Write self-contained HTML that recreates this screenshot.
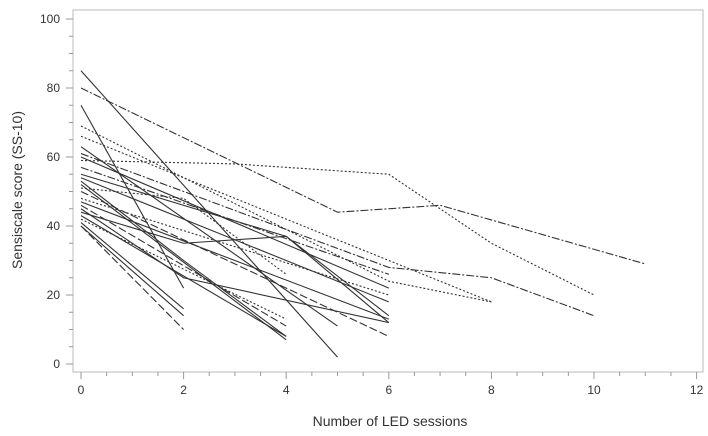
<!DOCTYPE html>
<html><head><meta charset="utf-8"><style>
body{margin:0;background:#fff;}
svg{display:block;font-family:"Liberation Sans",sans-serif;}
</style></head><body>
<svg id="chart" width="708" height="436" viewBox="0 0 708 436">
<rect x="0" y="0" width="708" height="436" fill="#fff"/>
<g id="axes"></g>
<g id="lines"></g>
<text x="390" y="426" font-size="14" text-anchor="middle" fill="#333">Number of LED sessions</text>
<text transform="translate(22,190) rotate(-90)" font-size="14" text-anchor="middle" fill="#333">Sensiscale score (SS-10)</text>
</svg>
<script>
const xTicks=[0,2,4,6,8,10,12];
const yTicks=[0,20,40,60,80,100];
const seriesStyles=["dashdot","solid","dotted","solid","dashdot","dotted","dotted","solid","solid","solid","solid","solid","dashed","solid","solid","solid","dotted","solid","solid","dashed","dotted","dashdot","solid","dashed","solid","dotted"];
const seriesX=[[0,5,7,11],[0,5],[0,3,6,8,10],[0,2],[0,6,8,10],[0,6,8],[0,8],[0,6],[0,4,6],[0,6],[0,2,4],[0,4],[0,6],[0,6],[0,2,6],[0,2,4,6],[0,6],[0,2],[0,2],[0,2],[0,4],[0,6],[0,4],[0,4],[0,5],[0,2,4]];
const seriesY=[[80,44,46,29],[85,2],[59,58,55,35,20],[75,22],[61,28,25,14],[69,24,18],[66,18],[60,22],[55,37,12],[54,18],[53,30,8],[52,7],[50,8],[47,13],[45,25,12],[44,35,37,14],[48,20],[41,16],[40,14],[40,10],[42,13],[57,26],[43,8],[46,11],[63,11],[51,48,26]];
const X=v=>81+v*51.3, Y=v=>364-v*3.45;
const NS="http://www.w3.org/2000/svg";
const ax=document.getElementById('axes'), lg=document.getElementById('lines');
function mk(tag,attrs,parent){const e=document.createElementNS(NS,tag);for(const k in attrs)e.setAttribute(k,attrs[k]);parent.appendChild(e);return e;}
let frame=mk('rect',{x:73,y:10,width:630,height:362,fill:'none',stroke:'#bbb','stroke-width':1},ax);


for(let v=0;v<=100;v+=5){let t=mk('line',{x1:(v%20===0?66:69),x2:73,y1:Y(v),y2:Y(v),stroke:'#999'},ax);

}
for(let v=0;v<=12;v+=0.5){let t=mk('line',{x1:X(v),x2:X(v),y1:372,y2:(v%2===0?379:376),stroke:'#999'},ax);

}
yTicks.forEach(v=>{let t=mk('text',{x:60,y:Y(v)+4,'font-size':12,'text-anchor':'end',fill:'#333'},ax);t.textContent=v;

});
xTicks.forEach(v=>{let t=mk('text',{x:X(v),y:394,'font-size':12,'text-anchor':'middle',fill:'#333'},ax);t.textContent=v;

});
const dash={solid:'',dashed:'8,3',dotted:'2,2',dashdot:'8,2,2,2'};
seriesX.forEach((xs,i)=>{const pts=xs.map((x,j)=>X(x)+','+Y(seriesY[i][j])).join(' ');
let p=mk('polyline',{points:pts,fill:'none',stroke:'#333','stroke-width':1.1,'stroke-dasharray':dash[seriesStyles[i]]},lg);

});
</script>
</body></html>
